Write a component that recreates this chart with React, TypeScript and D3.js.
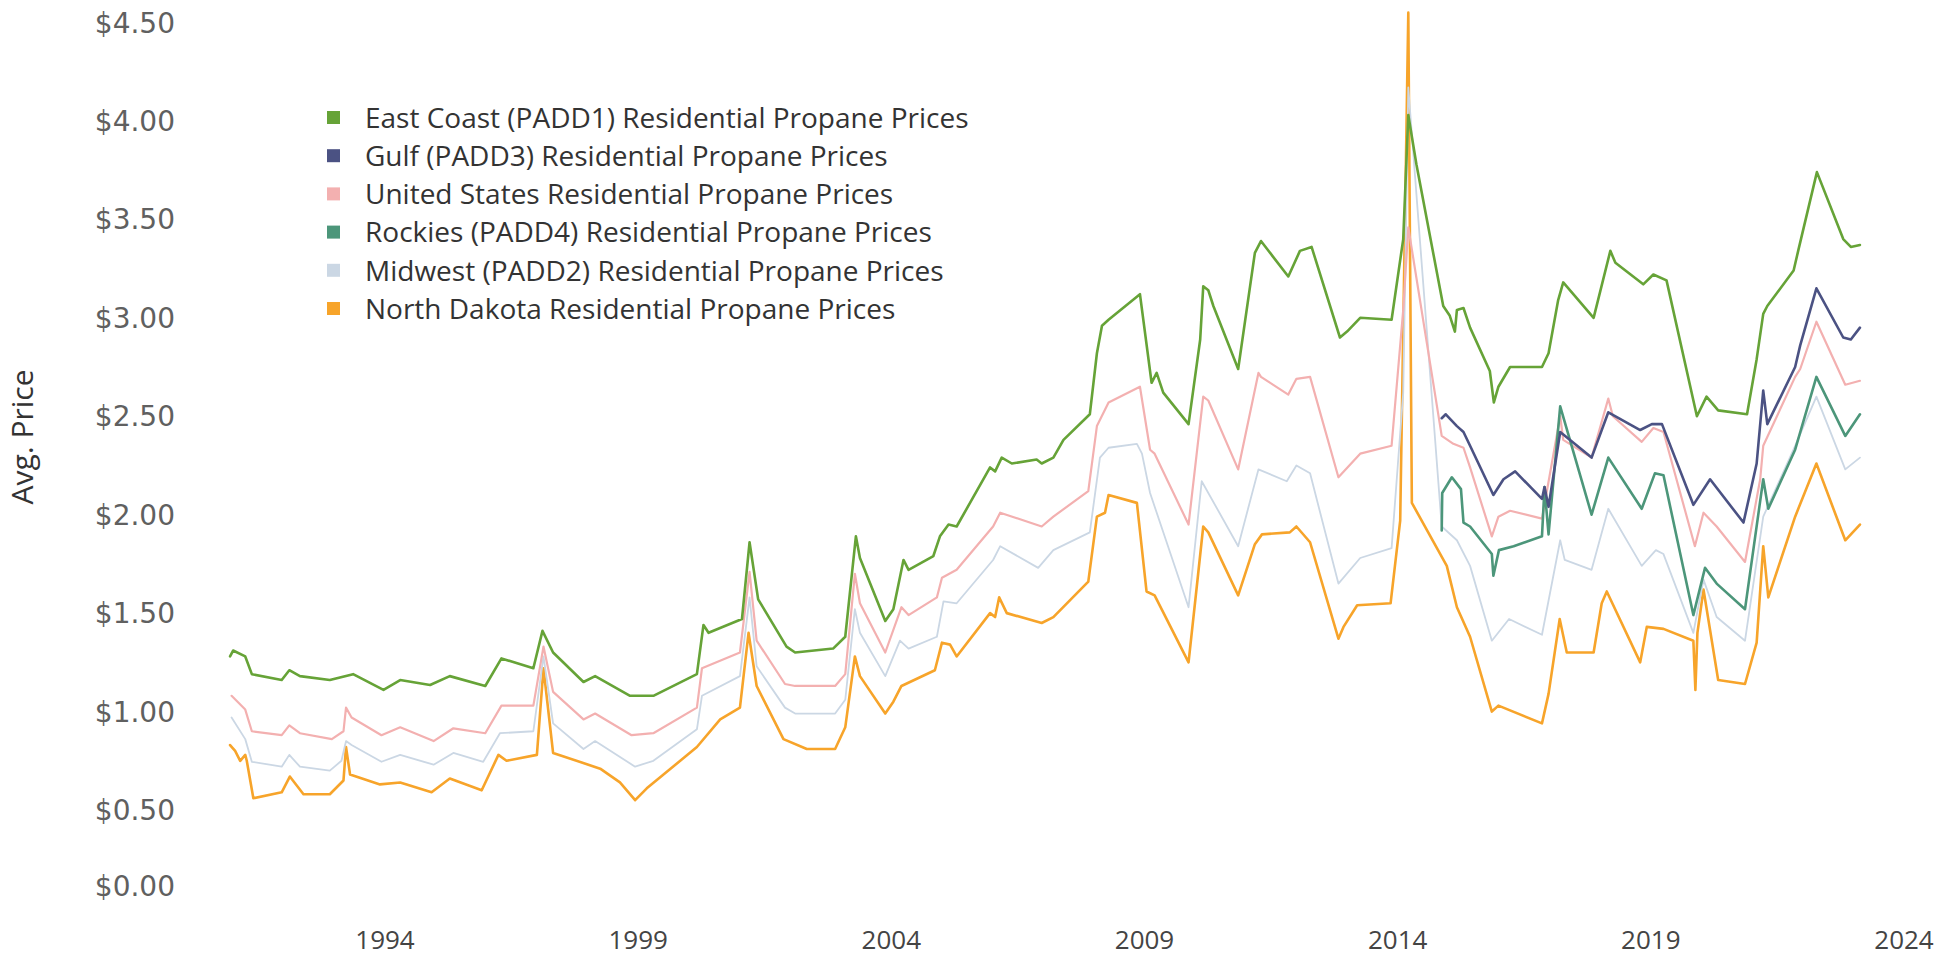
import * as d3 from "d3";

// weekly heating-season prices as [year, $/gal]
const yearTicks = [1994, 1999, 2004, 2009, 2014, 2019, 2024];
const priceTicks = [0, 0.5, 1, 1.5, 2, 2.5, 3, 3.5, 4, 4.5];

const eastCoast: [number, number][] = [
  [1990.94, 1.28], [1991.0, 1.31], [1991.24, 1.28], [1991.37, 1.19], [1991.96, 1.16], [1992.11, 1.21],
  [1992.32, 1.18], [1992.91, 1.16], [1993.37, 1.19], [1993.97, 1.11], [1994.3, 1.16], [1994.89, 1.135],
  [1995.28, 1.18], [1995.98, 1.13], [1996.3, 1.27], [1996.93, 1.22], [1997.11, 1.41], [1997.32, 1.3],
  [1997.92, 1.15], [1998.15, 1.18], [1998.84, 1.08], [1999.3, 1.08], [2000.16, 1.19], [2000.29, 1.44],
  [2000.39, 1.4], [2001.05, 1.47], [2001.2, 1.86], [2001.37, 1.57], [2001.93, 1.33], [2002.1, 1.3],
  [2002.85, 1.32], [2003.09, 1.38], [2003.3, 1.89], [2003.38, 1.78], [2003.88, 1.46], [2004.04, 1.52],
  [2004.24, 1.77], [2004.34, 1.72], [2004.83, 1.79], [2004.96, 1.89], [2005.13, 1.95], [2005.29, 1.94],
  [2005.95, 2.24], [2006.05, 2.22], [2006.18, 2.29], [2006.38, 2.26], [2006.87, 2.28], [2006.97, 2.26],
  [2007.2, 2.29], [2007.4, 2.38], [2007.92, 2.51], [2008.06, 2.82], [2008.16, 2.96], [2008.29, 2.99],
  [2008.91, 3.12], [2009.14, 2.67], [2009.24, 2.72], [2009.37, 2.62], [2009.87, 2.46], [2010.1, 2.89],
  [2010.16, 3.16], [2010.26, 3.14], [2010.36, 3.06], [2010.85, 2.74], [2011.18, 3.33], [2011.3, 3.39],
  [2011.84, 3.21], [2012.07, 3.34], [2012.3, 3.36], [2012.86, 2.9], [2013.0, 2.93], [2013.26, 3.0],
  [2013.88, 2.99], [2014.11, 3.4], [2014.21, 4.03], [2014.37, 3.78], [2014.9, 3.06], [2015.03, 3.01],
  [2015.13, 2.93], [2015.17, 3.04], [2015.3, 3.05], [2015.43, 2.95], [2015.82, 2.73], [2015.9, 2.57],
  [2015.99, 2.65], [2016.22, 2.75], [2016.85, 2.75], [2016.98, 2.82], [2017.17, 3.09], [2017.27, 3.18],
  [2017.87, 3.0], [2018.2, 3.34], [2018.3, 3.28], [2018.85, 3.17], [2019.05, 3.22], [2019.31, 3.19],
  [2019.91, 2.5], [2020.1, 2.6], [2020.33, 2.53], [2020.9, 2.51], [2021.09, 2.79], [2021.22, 3.02],
  [2021.3, 3.06], [2021.82, 3.24], [2021.91, 3.34], [2022.28, 3.74], [2022.8, 3.4], [2022.95, 3.36],
  [2023.13, 3.37],
];

const gulf: [number, number][] = [
  [2014.87, 2.49], [2014.95, 2.51], [2015.17, 2.45], [2015.3, 2.42], [2015.43, 2.35], [2015.89, 2.1],
  [2016.09, 2.18], [2016.32, 2.22], [2016.85, 2.08], [2016.9, 2.14], [2016.98, 2.04], [2017.21, 2.42],
  [2017.83, 2.29], [2018.16, 2.52], [2018.79, 2.43], [2019.02, 2.46], [2019.22, 2.46], [2019.84, 2.05],
  [2020.17, 2.18], [2020.83, 1.96], [2021.09, 2.26], [2021.22, 2.63], [2021.3, 2.46], [2021.85, 2.75],
  [2021.95, 2.86], [2022.27, 3.15], [2022.8, 2.9], [2022.95, 2.89], [2023.13, 2.95],
];

const unitedStates: [number, number][] = [
  [1990.97, 1.08], [1991.24, 1.01], [1991.37, 0.9], [1991.96, 0.88], [1992.11, 0.93], [1992.32, 0.89],
  [1992.95, 0.86], [1993.18, 0.9], [1993.23, 1.02], [1993.34, 0.97], [1993.93, 0.88], [1994.3, 0.92],
  [1994.96, 0.85], [1995.35, 0.915], [1995.98, 0.89], [1996.3, 1.03], [1996.93, 1.03], [1997.13, 1.33],
  [1997.32, 1.1], [1997.92, 0.96], [1998.15, 0.99], [1998.87, 0.88], [1999.3, 0.89], [2000.16, 1.02],
  [2000.26, 1.22], [2001.01, 1.3], [2001.2, 1.71], [2001.34, 1.36], [2001.9, 1.14], [2002.1, 1.13],
  [2002.89, 1.13], [2003.09, 1.19], [2003.28, 1.7], [2003.38, 1.55], [2003.88, 1.3], [2004.2, 1.53],
  [2004.34, 1.49], [2004.9, 1.58], [2005.0, 1.68], [2005.29, 1.72], [2006.01, 1.94], [2006.15, 2.01],
  [2006.97, 1.94], [2007.2, 1.99], [2007.89, 2.12], [2008.06, 2.45], [2008.29, 2.57], [2008.91, 2.65],
  [2009.11, 2.33], [2009.2, 2.31], [2009.87, 1.95], [2010.16, 2.6], [2010.26, 2.58], [2010.85, 2.23],
  [2011.25, 2.72], [2011.3, 2.7], [2011.84, 2.61], [2012.0, 2.69], [2012.27, 2.7], [2012.83, 2.19],
  [2013.26, 2.31], [2013.88, 2.35], [2014.11, 3.04], [2014.21, 3.46], [2014.87, 2.4], [2015.1, 2.36],
  [2015.3, 2.34], [2015.43, 2.24], [2015.86, 1.89], [2015.99, 1.99], [2016.22, 2.02], [2016.85, 1.98],
  [2017.21, 2.5], [2017.27, 2.38], [2017.83, 2.29], [2018.16, 2.59], [2018.25, 2.5], [2018.82, 2.37],
  [2019.05, 2.44], [2019.25, 2.42], [2019.87, 1.84], [2020.04, 2.01], [2020.3, 1.94], [2020.86, 1.76],
  [2021.16, 2.18], [2021.22, 2.35], [2021.85, 2.7], [2021.95, 2.74], [2022.27, 2.98], [2022.84, 2.66],
  [2023.13, 2.68],
];

const rockies: [number, number][] = [
  [2014.87, 1.92], [2014.88, 2.11], [2015.07, 2.19], [2015.25, 2.13], [2015.3, 1.96], [2015.43, 1.94],
  [2015.86, 1.8], [2015.89, 1.69], [2016.0, 1.82], [2016.29, 1.84], [2016.85, 1.89], [2016.9, 2.14],
  [2016.98, 1.9], [2017.21, 2.55], [2017.83, 2.0], [2018.16, 2.29], [2018.82, 2.03], [2019.08, 2.21],
  [2019.25, 2.2], [2019.84, 1.49], [2020.07, 1.73], [2020.3, 1.65], [2020.86, 1.52], [2021.22, 2.18],
  [2021.32, 2.03], [2021.85, 2.33], [2022.27, 2.7], [2022.84, 2.4], [2023.13, 2.51],
];

const midwest: [number, number][] = [
  [1990.97, 0.97], [1991.24, 0.86], [1991.37, 0.745], [1991.96, 0.72], [1992.11, 0.78], [1992.32, 0.72],
  [1992.91, 0.7], [1993.14, 0.75], [1993.23, 0.85], [1993.34, 0.83], [1993.93, 0.745], [1994.3, 0.78],
  [1994.96, 0.73], [1995.35, 0.79], [1995.94, 0.745], [1996.27, 0.89], [1996.93, 0.9], [1997.13, 1.28],
  [1997.32, 0.94], [1997.92, 0.81], [1998.15, 0.85], [1998.94, 0.72], [1999.3, 0.75], [2000.16, 0.91],
  [2000.26, 1.08], [2001.01, 1.18], [2001.2, 1.58], [2001.34, 1.23], [2001.9, 1.02], [2002.1, 0.99],
  [2002.89, 0.99], [2003.09, 1.06], [2003.28, 1.52], [2003.38, 1.4], [2003.88, 1.18], [2004.17, 1.36],
  [2004.34, 1.32], [2004.9, 1.38], [2005.03, 1.56], [2005.29, 1.55], [2006.01, 1.77], [2006.15, 1.84],
  [2006.9, 1.73], [2007.2, 1.82], [2007.92, 1.91], [2008.12, 2.29], [2008.29, 2.34], [2008.85, 2.36],
  [2008.95, 2.31], [2009.11, 2.11], [2009.87, 1.53], [2010.13, 2.17], [2010.85, 1.84], [2011.25, 2.23],
  [2011.81, 2.17], [2012.0, 2.25], [2012.27, 2.21], [2012.83, 1.65], [2013.26, 1.78], [2013.88, 1.83],
  [2014.11, 2.62], [2014.21, 4.17], [2014.87, 1.94], [2015.17, 1.87], [2015.43, 1.74], [2015.86, 1.36],
  [2016.2, 1.47], [2016.85, 1.39], [2017.21, 1.87], [2017.3, 1.77], [2017.83, 1.72], [2018.16, 2.03],
  [2018.82, 1.74], [2019.1, 1.82], [2019.25, 1.8], [2019.84, 1.4], [2020.04, 1.67], [2020.3, 1.48],
  [2020.86, 1.36], [2021.22, 1.99], [2021.85, 2.35], [2022.27, 2.6], [2022.84, 2.23], [2023.13, 2.29],
];

const northDakota: [number, number][] = [
  [1990.94, 0.83], [1991.04, 0.8], [1991.14, 0.75], [1991.24, 0.78], [1991.27, 0.75], [1991.4, 0.56],
  [1991.96, 0.59], [1992.12, 0.67], [1992.39, 0.58], [1992.91, 0.58], [1993.18, 0.65], [1993.23, 0.82],
  [1993.31, 0.68], [1993.9, 0.63], [1994.3, 0.64], [1994.92, 0.59], [1995.28, 0.66], [1995.91, 0.6],
  [1996.24, 0.78], [1996.4, 0.75], [1997.0, 0.78], [1997.13, 1.22], [1997.32, 0.79], [1998.25, 0.71],
  [1998.64, 0.64], [1998.94, 0.55], [1999.17, 0.61], [2000.16, 0.82], [2000.62, 0.96], [2001.01, 1.02],
  [2001.18, 1.4], [2001.34, 1.13], [2001.87, 0.86], [2002.33, 0.81], [2002.89, 0.81], [2003.09, 0.92],
  [2003.28, 1.28], [2003.38, 1.18], [2003.88, 0.99], [2004.04, 1.05], [2004.2, 1.13], [2004.86, 1.21],
  [2005.0, 1.35], [2005.16, 1.34], [2005.29, 1.28], [2005.95, 1.5], [2006.05, 1.48], [2006.13, 1.58],
  [2006.28, 1.5], [2006.97, 1.45], [2007.2, 1.48], [2007.89, 1.66], [2008.06, 1.99], [2008.22, 2.01],
  [2008.29, 2.1], [2008.85, 2.06], [2009.04, 1.61], [2009.2, 1.59], [2009.87, 1.25], [2010.06, 1.7],
  [2010.16, 1.94], [2010.26, 1.91], [2010.85, 1.59], [2011.18, 1.85], [2011.32, 1.9], [2011.87, 1.91],
  [2012.0, 1.94], [2012.27, 1.86], [2012.83, 1.37], [2012.93, 1.43], [2013.2, 1.54], [2013.86, 1.55],
  [2014.05, 1.97], [2014.21, 4.55], [2014.28, 2.06], [2014.97, 1.74], [2015.17, 1.53], [2015.43, 1.38],
  [2015.86, 1.0], [2015.99, 1.03], [2016.85, 0.94], [2016.98, 1.09], [2017.2, 1.47], [2017.34, 1.3],
  [2017.87, 1.3], [2018.03, 1.55], [2018.13, 1.61], [2018.79, 1.25], [2018.92, 1.43], [2019.25, 1.42],
  [2019.84, 1.36], [2019.88, 1.11], [2019.92, 1.4], [2020.04, 1.62], [2020.33, 1.16], [2020.86, 1.14],
  [2021.09, 1.35], [2021.22, 1.84], [2021.32, 1.58], [2021.85, 1.99], [2022.27, 2.26], [2022.84, 1.87],
  [2023.13, 1.95],
];

const legendItems = [
  { name: "East Coast (PADD1) Residential Propane Prices", color: "#66a337", data: eastCoast, w: 2.6 },
  { name: "Gulf (PADD3) Residential Propane Prices", color: "#4b5283", data: gulf, w: 2.6 },
  { name: "United States Residential Propane Prices", color: "#f3b0b0", data: unitedStates, w: 2.2 },
  { name: "Rockies (PADD4) Residential Propane Prices", color: "#4c967a", data: rockies, w: 2.6 },
  { name: "Midwest (PADD2) Residential Propane Prices", color: "#cbd7e4", data: midwest, w: 1.8 },
  { name: "North Dakota Residential Propane Prices", color: "#f7a42a", data: northDakota, w: 2.6 },
];

// bottom to top
const drawOrder = [5, 4, 2, 3, 1, 0];

export default function App() {
  const width = 1959;
  const height = 959;

  const x = d3.scaleLinear().domain([1994, 2024]).range([385, 1904]);
  // the scanned axis is squeezed below $0.50
  const y = d3.scaleLinear().domain([0, 0.5, 4.5]).range([886, 810, 22.5]);

  const line = d3
    .line<[number, number]>()
    .x((d) => x(d[0]))
    .y((d) => y(d[1]));

  const fmt = d3.format("$.2f");

  return (
    <svg
      width={width}
      height={height}
      style={{ position: "absolute", left: 0, top: 0, background: "#fff" }}
    >
      {/* y axis labels */}
      <g fontFamily="'DejaVu Sans', sans-serif" fontSize={28} fill="#606060">
        {priceTicks.map((t) => (
          <text key={t} x={175} y={y(t)} dy="0.36em" textAnchor="end">
            {fmt(t)}
          </text>
        ))}
      </g>
      <text
        transform="translate(33,437) rotate(-90)"
        textAnchor="middle"
        fontFamily="'Open Sans', sans-serif"
        fontSize={30}
        fill="#333"
      >
        Avg. Price
      </text>

      {/* x axis labels */}
      <g fontFamily="'Open Sans', sans-serif" fontSize={26} fill="#444">
        {yearTicks.map((t) => (
          <text key={t} x={x(t)} y={940} dy="0.36em" textAnchor="middle">
            {t}
          </text>
        ))}
      </g>

      {/* lines */}
      <g fill="none" strokeLinejoin="round" strokeLinecap="round">
        {drawOrder.map((i) => (
          <path
            key={legendItems[i].name}
            d={line(legendItems[i].data) || ""}
            stroke={legendItems[i].color}
            strokeWidth={legendItems[i].w}
          />
        ))}
      </g>

      {/* legend */}
      <g fontFamily="'Open Sans', sans-serif" fontSize={28} fill="#333">
        {legendItems.map((s, i) => (
          <g key={s.name} transform={`translate(327,${118 + i * 38.2})`}>
            <rect x={0} y={-7} width={13} height={13} fill={s.color} />
            <text x={38} y={0} dy="0.35em">
              {s.name}
            </text>
          </g>
        ))}
      </g>
    </svg>
  );
}
